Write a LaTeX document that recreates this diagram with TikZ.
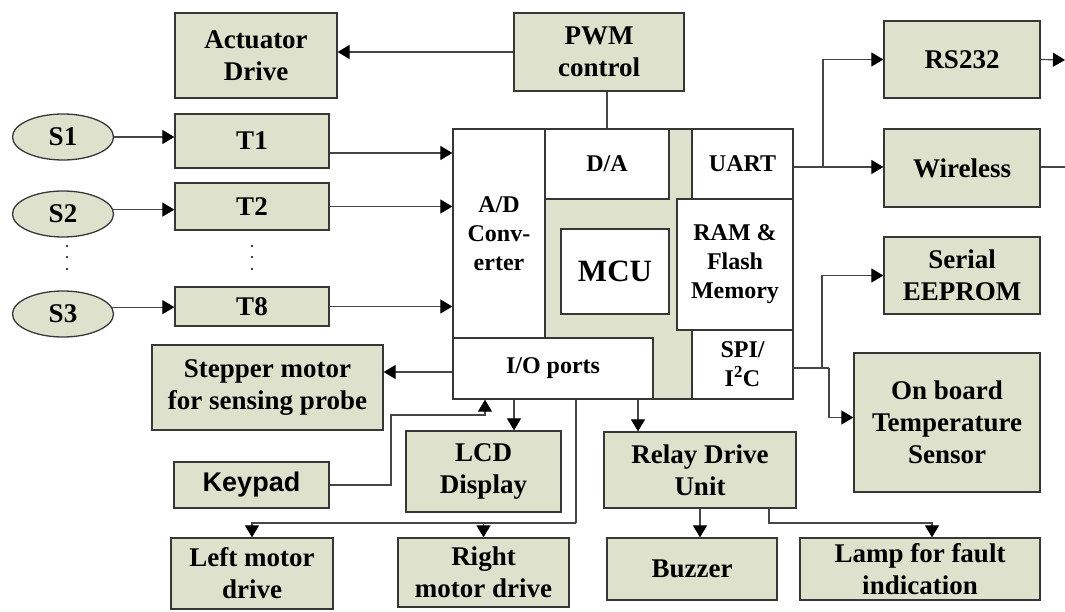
\documentclass[tikz,border=0pt]{standalone}
\usepackage{fontspec}
\setmainfont{Liberation Serif}
\newfontfamily\arialfont{Liberation Sans}
\usetikzlibrary{arrows.meta,shapes.geometric}
\definecolor{boxfill}{RGB}{222,226,205}
\definecolor{boxline}{RGB}{55,55,55}
\definecolor{wire}{RGB}{70,70,70}
\newcommand{\mkbox}[7]{%
  \node[#1, minimum width={#5-#3}, minimum height={#6-#4}] (#2) at ({(#3+#5)/2},{(#4+#6)/2}) {#7};}
\tikzset{
  blk/.style={draw=boxline, line width=1.3pt, fill=boxfill, inner sep=0pt, align=center,
    font=\bfseries\fontsize{27}{32}\selectfont},
  wbox/.style={draw=boxline, line width=1.3pt, fill=white, inner sep=0pt, align=center,
    font=\bfseries\fontsize{24}{29}\selectfont},
  sens/.style={ellipse, draw=boxline, line width=1.3pt, fill=boxfill, inner sep=0pt,
    font=\bfseries\fontsize{27}{32}\selectfont},
  wireline/.style={draw=wire, line width=1.2pt},
  arr/.style={wireline, -{Triangle[length=12pt 0 0,width=14pt 0 0,fill=black,color=black]}},
  dotmark/.style={circle, fill=black, inner sep=0pt, minimum size=2.2pt}
}
\begin{document}
\begin{tikzpicture}[x=1pt,y=-1pt]
\useasboundingbox (0,0) rectangle (1065,612);
\clip (0,0) rectangle (1065,612);
% left column
\mkbox{blk}{act}{175}{13}{337}{98}{Actuator\\Drive}
\mkbox{blk}{pwm}{514}{13}{684}{91}{PWM\\control}
\node[sens, minimum width=101pt, minimum height=46pt] (s1) at (63,137) {S1};
\node[sens, minimum width=101pt, minimum height=46pt] (s2) at (63,214) {S2};
\node[sens, minimum width=101pt, minimum height=46pt] (s3) at (63,314) {S3};
\mkbox{blk}{t1}{175}{114}{329}{168}{T1}
\mkbox{blk}{t2}{175}{183}{329}{230}{T2}
\mkbox{blk}{t8}{175}{287}{329}{326}{T8}
\foreach \yy in {246,257,269}{
  \node[dotmark] at (67,\yy) {};
  \node[dotmark] at (252,\yy) {};
}
% MCU block
\node[draw=boxline, line width=1.3pt, fill=boxfill, minimum width=340pt, minimum height=270pt, inner sep=0pt] (outer) at (623,264) {};
\mkbox{wbox}{ad}{453}{129}{545}{338}{A/D\\Conv-\\erter}
\mkbox{wbox}{da}{545}{129}{669}{199}{D/A}
\mkbox{wbox}{uart}{692}{129}{793}{199}{UART}
\mkbox{wbox}{ram}{677}{199}{793}{330}{RAM \&\\Flash\\Memory}
\mkbox{wbox}{mcu}{561}{229}{669}{314}{\fontsize{31}{36}\selectfont MCU}
\mkbox{wbox}{io}{453}{338}{653}{399}{I/O ports}
\mkbox{wbox}{spi}{692}{330}{793}{399}{SPI/\\I\textsuperscript{2}C}
% right column
\mkbox{blk}{rs}{884}{21}{1040}{98}{RS232}
\mkbox{blk}{wl}{884}{129}{1040}{207}{Wireless}
\mkbox{blk}{ee}{884}{237}{1040}{314}{Serial\\EEPROM}
\mkbox{blk}{temp}{854}{353}{1040}{492}{On board\\Temperature\\Sensor}
% bottom
\mkbox{blk}{step}{152}{345}{383}{430}{Stepper motor\\for sensing probe}
\mkbox{blk}{kp}{174}{462}{329}{508}{{\arialfont\bfseries Keypad}}
\mkbox{blk}{lcd}{406}{431}{561}{512}{LCD\\Display}
\mkbox{blk}{relay}{604}{432}{796}{508}{Relay Drive\\Unit}
\mkbox{blk}{lm}{171}{538}{333}{609}{Left motor\\drive}
\mkbox{blk}{rm}{398}{538}{569}{607}{Right\\motor drive}
\mkbox{blk}{bz}{607}{538}{777}{600}{Buzzer}
\mkbox{blk}{lamp}{800}{538}{1040}{600}{Lamp for fault\\indication}
% helper coordinates
\coordinate (kpA) at (391,415);
\coordinate (mbus) at (576,523);
\coordinate (lbus) at (932,523);
\coordinate (ub) at (823,167);
\coordinate (spiA) at (822,368);
\coordinate (spiB) at (829,368);
\coordinate (rsout) at (1065,60);
\coordinate (wlout) at (1065,167);
% connectors
\draw[arr] (pwm.west) -- (pwm.west -| act.east);
\draw[wireline] ([xshift=8pt]pwm.south) -- ([xshift=8pt]pwm.south |- outer.north);
\draw[arr] (s1.east) -- (s1.east -| t1.west);
\draw[arr] (s2.5) -- (s2.5 -| t2.west);
\draw[arr] (s3.8) -- (s3.8 -| t8.west);
\draw[arr] ([yshift=-12pt]t1.east) -- ([yshift=-12pt]t1.east -| ad.west);
\draw[arr] (t2.east) -- (t2.east -| ad.west);
\draw[arr] (t8.east) -- (t8.east -| ad.west);
\draw[arr] ([yshift=-3.5pt]io.west) -- ([yshift=-3.5pt]io.west -| step.east);
\draw[arr] (kp.east) -| (kpA) -| ([xshift=-68pt]io.south);
\draw[arr] ([xshift=-39pt]io.south) -- ([xshift=-39pt]io.south |- lcd.north);
\draw[arr] ([xshift=85pt]io.south) -- ([xshift=85pt]io.south |- relay.north);
\draw[wireline] (mbus |- io.south) -- (mbus);
\draw[arr] (mbus) -| (lm.north);
\draw[arr] (mbus -| rm.north) -- (rm.north);
\draw[arr] (relay.south) -- (relay.south |- bz.north);
\draw[arr] ([xshift=69pt]relay.south) |- (lbus) -- (lbus |- lamp.north);
\draw[arr] (ub -| uart.east) -- (ub -| wl.west);
\draw[arr] (ub) |- (rs.west);
\draw[arr] (rs.east) -- (rsout);
\draw[wireline] (wlout -| wl.east) -- (wlout);
\draw[wireline] (spiB -| spi.east) -- (spiB);
\draw[arr] (spiA) |- (ee.west);
\draw[arr] (spiB) |- ([yshift=5pt]temp.west);
\end{tikzpicture}
\end{document}
